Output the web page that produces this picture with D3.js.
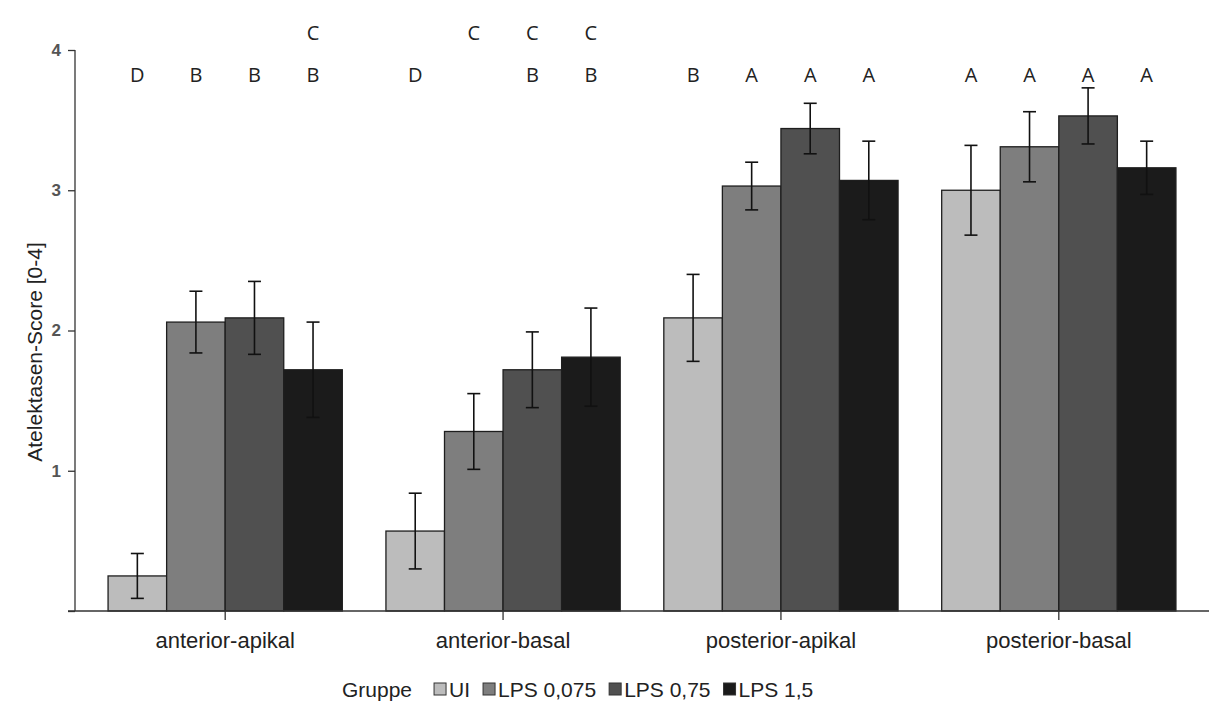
<!DOCTYPE html>
<html lang="de">
<head>
  <meta charset="UTF-8">
  <title>Atelektasen-Score</title>
  <script src="https://d3js.org/d3.v7.min.js"></script>
  <style>
    * { margin: 0; padding: 0; box-sizing: border-box; }
    body { background: #fff; width: 1209px; height: 710px; overflow: hidden; }
    svg { display: block; }
    .tick-label { font-family: 'Liberation Sans', Arial, sans-serif; font-size: 17px; font-weight: bold; fill: #555; }
    .cat-label { font-family: 'Liberation Sans', Arial, sans-serif; font-size: 22px; fill: #222; }
    .y-title { font-family: 'Liberation Sans', Arial, sans-serif; font-size: 21px; fill: #222; }
    .sig { font-family: 'Open Sans', sans-serif; font-size: 20px; fill: #222; }
    .legend text { font-family: 'Liberation Sans', Arial, sans-serif; font-size: 21px; fill: #222; }
  </style>
</head>
<body>
  <div id="chart"></div>
  <script>
    // regions and groups
    const categories = ["anterior-apikal", "anterior-basal", "posterior-apikal", "posterior-basal"];
    const groups = ["UI", "LPS 0,075", "LPS 0,75", "LPS 1,5"];
    const colors = ["#bcbcbc", "#7e7e7e", "#505050", "#1b1b1b"];

    // mean score per group, one value per region
    const meanUI = [0.25, 0.57, 2.09, 3.00];
    const meanLPS0075 = [2.06, 1.28, 3.03, 3.31];
    const meanLPS075 = [2.09, 1.72, 3.44, 3.53];
    const meanLPS15 = [1.72, 1.81, 3.07, 3.16];

    // error (+/-) per group
    const errUI = [0.16, 0.27, 0.31, 0.32];
    const errLPS0075 = [0.22, 0.27, 0.17, 0.25];
    const errLPS075 = [0.26, 0.27, 0.18, 0.20];
    const errLPS15 = [0.34, 0.35, 0.28, 0.19];

    // significance letters, [region][group]
    const sigLower = [["D", "B", "B", "B"], ["D", "", "B", "B"], ["B", "A", "A", "A"], ["A", "A", "A", "A"]];
    const sigUpper = [["", "", "", "C"], ["", "C", "C", "C"], ["", "", "", ""], ["", "", "", ""]];

    const yTicks = [0, 1, 2, 3, 4];

    const means = [meanUI, meanLPS0075, meanLPS075, meanLPS15];
    const errs = [errUI, errLPS0075, errLPS075, errLPS15];

    const data = [];
    categories.forEach((c, ci) => {
      groups.forEach((g, gi) => {
        data.push({ cat: c, ci: ci, group: g, gi: gi, v: means[gi][ci], e: errs[gi][ci] });
      });
    });

    const width = 1209, height = 710;
    const plotLeft = 75, plotRight = 1209, plotTop = 50, plotBottom = 611;

    const svg = d3.select("#chart").append("svg")
      .attr("width", width)
      .attr("height", height);

    const x0 = d3.scaleBand()
      .domain(categories)
      .range([plotLeft, plotRight])
      .paddingInner(0.157)
      .paddingOuter(0.119);

    const x1 = d3.scaleBand()
      .domain(groups)
      .range([0, x0.bandwidth()]);

    const y = d3.scaleLinear()
      .domain([0, 4])
      .range([plotBottom, plotTop]);

    // bars
    svg.append("g").selectAll("rect")
      .data(data)
      .enter().append("rect")
      .attr("x", d => x0(d.cat) + x1(d.group))
      .attr("y", d => y(d.v))
      .attr("width", x1.bandwidth())
      .attr("height", d => y(0) - y(d.v))
      .attr("fill", d => colors[d.gi])
      .attr("stroke", "#1e1e1e")
      .attr("stroke-width", 1.3);

    // error bars
    const cap = 6.5;
    const eb = svg.append("g").attr("stroke", "#111").attr("stroke-width", 1.6);
    data.forEach(d => {
      const cx = x0(d.cat) + x1(d.group) + x1.bandwidth() / 2;
      eb.append("line").attr("x1", cx).attr("x2", cx).attr("y1", y(d.v + d.e)).attr("y2", y(d.v - d.e));
      eb.append("line").attr("x1", cx - cap).attr("x2", cx + cap).attr("y1", y(d.v + d.e)).attr("y2", y(d.v + d.e));
      eb.append("line").attr("x1", cx - cap).attr("x2", cx + cap).attr("y1", y(d.v - d.e)).attr("y2", y(d.v - d.e));
    });

    // y axis
    const yAxis = svg.append("g")
      .attr("transform", `translate(${plotLeft},0)`)
      .call(d3.axisLeft(y).tickValues(yTicks).tickSize(7).tickPadding(7)
        .tickFormat(d => d === 0 ? "" : d));
    yAxis.attr("font-size", null).attr("font-family", null);
    yAxis.select(".domain").attr("stroke", "#333").attr("stroke-width", 1.3)
      .attr("d", `M0,${y(4)}V${y(0)}`);
    yAxis.selectAll(".tick line").attr("stroke", "#333").attr("stroke-width", 1.3);
    yAxis.selectAll(".tick text").attr("class", "tick-label");

    // baseline + x ticks
    svg.append("line")
      .attr("x1", plotLeft - 7).attr("x2", plotRight)
      .attr("y1", y(0)).attr("y2", y(0))
      .attr("stroke", "#333").attr("stroke-width", 1.3);

    const xAxis = svg.append("g")
      .attr("transform", `translate(0,${y(0)})`)
      .call(d3.axisBottom(x0).tickSize(9).tickPadding(12));
    xAxis.attr("font-size", null).attr("font-family", null);
    xAxis.select(".domain").remove();
    xAxis.selectAll(".tick line").attr("stroke", "#333").attr("stroke-width", 1.3);
    xAxis.selectAll(".tick text").attr("class", "cat-label");

    // y title
    svg.append("text")
      .attr("class", "y-title")
      .attr("transform", `translate(42,352) rotate(-90)`)
      .attr("text-anchor", "middle")
      .text("Atelektasen-Score [0-4]");

    // significance letters
    data.forEach(d => {
      const cx = x0(d.cat) + x1(d.group) + x1.bandwidth() / 2;
      svg.append("text").attr("class", "sig").attr("x", cx).attr("y", 82)
        .attr("text-anchor", "middle").text(sigLower[d.ci][d.gi]);
      svg.append("text").attr("class", "sig").attr("x", cx).attr("y", 40)
        .attr("text-anchor", "middle").text(sigUpper[d.ci][d.gi]);
    });

    // legend
    const legend = svg.append("g").attr("class", "legend");
    let lx = 342;
    const ly = 697;
    const title = legend.append("text").attr("x", lx).attr("y", ly).text("Gruppe");
    lx += title.node().getComputedTextLength() + 22;
    groups.forEach((g, i) => {
      legend.append("rect")
        .attr("x", lx).attr("y", ly - 14)
        .attr("width", 12).attr("height", 12)
        .attr("fill", colors[i])
        .attr("stroke", "#333").attr("stroke-width", 1);
      const t = legend.append("text").attr("x", lx + 15).attr("y", ly).text(g);
      lx += 15 + t.node().getComputedTextLength() + 13;
    });
  </script>
</body>
</html>
